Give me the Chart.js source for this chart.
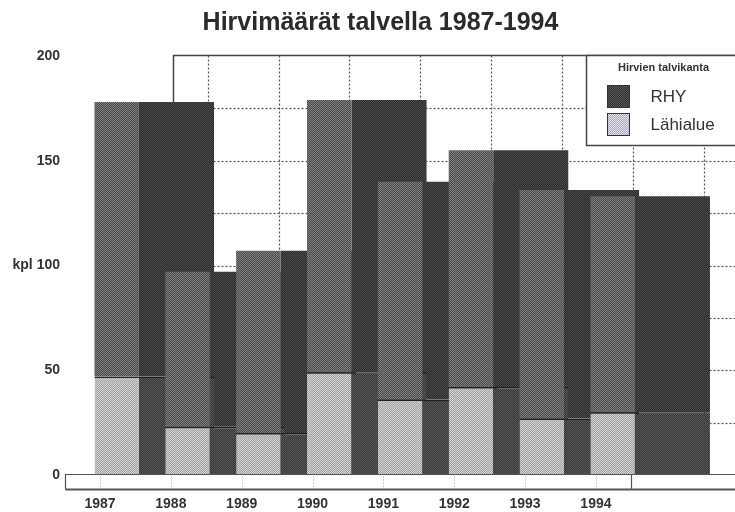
<!DOCTYPE html>
<html>
<head>
<meta charset="utf-8">
<script src="https://cdn.jsdelivr.net/npm/chart.js@4.4.1/dist/chart.umd.min.js"></script>
<style>
  html, body { margin: 0; padding: 0; background: #fff; overflow: hidden; }
  #wrap { width: 735px; height: 512px; }
</style>
</head>
<body>
<div id="wrap"><canvas id="c" width="735" height="512"></canvas></div>
<script>
// Winter moose counts per year: hunting district (RHY) and the nearby area (Lähialue)
const YEARS = ['1987', '1988', '1989', '1990', '1991', '1992', '1993', '1994'];
const RHY = [178, 97, 107, 179, 140, 155, 136, 133];
const LAHIALUE = [47, 23, 20, 49, 36, 42, 27, 30];
const Y_TICKS = [0, 50, 100, 150, 200];
const Y_TICK_LABELS = ['0', '50', 'kpl 100', '150', '200'];
const WALL_GRID = [25, 50, 75, 100, 125, 150, 175];

// Geometry in year units (1 unit = spacing between two years)
const X_MIN = -0.494, X_MAX = 8.963;
const FRONT_SHIFT = 0.236, FRONT_WIDTH = 0.628;
const SIDE_SHIFT = 1.08, SIDE_WIDTH = 1.059;
const DEPTH = 1.52;
const KEY_LEFT = 6.86;
const FLOOR_PX = 15;

const FONT = '"Liberation Sans", Arial, Helvetica, sans-serif';
Chart.defaults.font.family = FONT;

const canvas = document.getElementById('c');
const mainCtx = canvas.getContext('2d');

// 2x2 halftone pattern
function dither(a, b) {
  const t = document.createElement('canvas');
  t.width = t.height = 2;
  const g = t.getContext('2d');
  g.fillStyle = a; g.fillRect(0, 0, 2, 2);
  g.fillStyle = b; g.fillRect(0, 0, 1, 1); g.fillRect(1, 1, 1, 1);
  return mainCtx.createPattern(t, 'repeat');
}

const FILL_FRONT_TOP = dither('#4c4c4c', '#7e7e7e');
const FILL_FRONT_LOW = dither('#a2a2a2', '#d2d2d2');
const FILL_SIDE_TOP = dither('#2b2b2b', '#4b4b4b');
const FILL_SIDE_LOW = dither('#353535', '#5a5a5a');
const FILL_KEY_RHY = dither('#2e2e2e', '#5a5a5a');
const FILL_KEY_LAHI = dither('#a8a8c4', '#e2e2f0');

const intTicks = (scale) => { scale.ticks = YEARS.map((_, i) => ({ value: i })); };

const topLine = { top: 1.5, right: 0, bottom: 0, left: 0 };

// Back wall: frame and dotted grid, drawn behind the boxes
const backWall = {
  id: 'backWall',
  beforeDatasetsDraw(chart) {
    const { ctx, width, scales: { x, y } } = chart;
    const left = Math.round(x.getPixelForValue(X_MIN + DEPTH)) + 0.5;
    const right = width;
    const top = Math.round(y.getPixelForValue(200)) - 0.5;
    const bottom = y.getPixelForValue(0);
    ctx.save();
    ctx.strokeStyle = '#555';
    ctx.lineWidth = 1.2;
    ctx.setLineDash([2, 2]);
    WALL_GRID.forEach(v => {
      const py = Math.round(y.getPixelForValue(v)) + 0.5;
      ctx.beginPath(); ctx.moveTo(left, py); ctx.lineTo(right, py); ctx.stroke();
    });
    YEARS.forEach((_, i) => {
      const px = Math.round(x.getPixelForValue(i + DEPTH)) + 0.5;
      if (px < right) {
        ctx.beginPath(); ctx.moveTo(px, top); ctx.lineTo(px, bottom); ctx.stroke();
      }
    });
    ctx.setLineDash([]);
    ctx.strokeStyle = '#444';
    ctx.lineWidth = 1.5;
    ctx.beginPath();
    ctx.moveTo(left, bottom); ctx.lineTo(left, top); ctx.lineTo(right + 2, top);
    ctx.stroke();
    ctx.restore();
  }
};

// Floor strip under the boxes with the year tick marks
const floor = {
  id: 'floor',
  afterDatasetsDraw(chart) {
    const { ctx, width, scales: { x, y } } = chart;
    const fl = Math.round(x.getPixelForValue(X_MIN)) + 0.5;
    const fr = width + 2;
    const ft = Math.round(y.getPixelForValue(0)) - 0.5;
    const fb = ft + FLOOR_PX;
    ctx.save();
    ctx.fillStyle = '#fff';
    ctx.fillRect(fl, ft, fr - fl, FLOOR_PX);
    ctx.strokeStyle = '#999';
    ctx.lineWidth = 1;
    ctx.setLineDash([1, 2]);
    YEARS.forEach((_, i) => {
      const px = Math.round(x.getPixelForValue(i)) + 0.5;
      ctx.beginPath(); ctx.moveTo(px, ft + 2); ctx.lineTo(px, fb - 2); ctx.stroke();
    });
    ctx.setLineDash([]);
    ctx.strokeStyle = '#555';
    ctx.lineWidth = 1.2;
    ctx.beginPath();
    ctx.moveTo(fr, ft); ctx.lineTo(fl, ft); ctx.lineTo(fl, fb);
    ctx.stroke();
    ctx.lineWidth = 2;
    ctx.beginPath(); ctx.moveTo(fl, fb); ctx.lineTo(fr, fb); ctx.stroke();
    const edge = Math.round(x.getPixelForValue(YEARS.length - 0.5)) + 0.5;
    ctx.lineWidth = 1.2;
    ctx.beginPath(); ctx.moveTo(edge, ft); ctx.lineTo(edge, fb); ctx.stroke();
    ctx.restore();
  }
};

// Framed key box in the upper right corner
const keyBox = {
  id: 'keyBox',
  afterDraw(chart) {
    const { ctx, scales: { x, y } } = chart;
    const lx = Math.round(x.getPixelForValue(KEY_LEFT)) + 0.5;
    const ly = Math.round(y.getPixelForValue(200)) - 0.5;
    const lh = 90;
    ctx.save();
    ctx.fillStyle = '#fff';
    ctx.fillRect(lx, ly, 220, lh);
    ctx.strokeStyle = '#444';
    ctx.lineWidth = 1.5;
    ctx.strokeRect(lx, ly, 220, lh);
    ctx.fillStyle = '#333';
    ctx.font = 'bold 11px ' + FONT;
    ctx.textAlign = 'center';
    ctx.textBaseline = 'middle';
    ctx.fillText('Hirvien talvikanta', lx + 77, ly + 12);
    const items = [
      { text: chart.data.datasets[1].label, fill: FILL_KEY_RHY },
      { text: chart.data.datasets[0].label, fill: FILL_KEY_LAHI }
    ];
    ctx.font = '17px ' + FONT;
    ctx.textAlign = 'left';
    items.forEach((it, k) => {
      const sy = ly + 30 + k * 28;
      ctx.fillStyle = it.fill;
      ctx.fillRect(lx + 21, sy, 22, 22);
      ctx.strokeStyle = '#333';
      ctx.lineWidth = 1;
      ctx.strokeRect(lx + 21, sy, 22, 22);
      ctx.fillStyle = '#333';
      ctx.fillText(it.text, lx + 64, sy + 12);
    });
    ctx.restore();
  }
};

const lowData = LAHIALUE.map((v, i) => ({ x: i, y: [0, v] }));
const topData = RHY.map((v, i) => ({ x: i, y: [LAHIALUE[i], v] }));

const hiddenX = (shift) => ({
  type: 'linear', axis: 'x', display: false, offset: false,
  min: X_MIN - shift, max: X_MAX - shift,
  grid: { offset: false },
  afterBuildTicks: intTicks
});

new Chart(canvas, {
  type: 'bar',
  data: {
    datasets: [
      { label: 'Lähialue', xAxisID: 'xf', data: lowData, backgroundColor: FILL_FRONT_LOW,
        borderColor: '#222', borderWidth: topLine, borderSkipped: false,
        barPercentage: FRONT_WIDTH, order: 1 },
      { label: 'RHY', xAxisID: 'xf', data: topData, backgroundColor: FILL_FRONT_TOP,
        borderWidth: 0, barPercentage: FRONT_WIDTH, order: 1 },
      { label: 'Lähialue (sivu)', xAxisID: 'xs', data: lowData, backgroundColor: FILL_SIDE_LOW,
        borderColor: '#1e1e1e', borderWidth: topLine, borderSkipped: false,
        barPercentage: SIDE_WIDTH, order: 2 },
      { label: 'RHY (sivu)', xAxisID: 'xs', data: topData, backgroundColor: FILL_SIDE_TOP,
        borderWidth: 0, barPercentage: SIDE_WIDTH, order: 2 }
    ]
  },
  options: {
    responsive: false,
    animation: false,
    events: [],
    layout: { padding: { left: 0, right: -26, top: 0, bottom: 0 } },
    datasets: { bar: { grouped: false, categoryPercentage: 1 } },
    plugins: {
      legend: { display: false },
      tooltip: { enabled: false },
      title: {
        display: true,
        text: 'Hirvimäärät talvella 1987-1994',
        color: '#2b2b2b',
        font: { family: FONT, size: 25, weight: 'bold' },
        padding: { top: 8, bottom: 18 }
      }
    },
    scales: {
      x: {
        type: 'linear', axis: 'x', position: 'bottom', offset: false,
        min: X_MIN, max: X_MAX,
        afterBuildTicks: intTicks,
        afterFit: (s) => { s.height = 37; },
        grid: { display: false, drawTicks: false, offset: false },
        border: { display: false },
        ticks: {
          padding: 21, autoSkip: false, maxRotation: 0, color: '#333',
          font: { size: 14, weight: 'bold' },
          callback: (v) => YEARS[v]
        }
      },
      xf: hiddenX(FRONT_SHIFT),
      xs: hiddenX(SIDE_SHIFT),
      y: {
        type: 'linear', position: 'left', min: 0, max: 200,
        afterBuildTicks: (s) => { s.ticks = Y_TICKS.map(v => ({ value: v })); },
        afterFit: (s) => { s.width = 65; },
        grid: { display: false, drawTicks: false },
        border: { display: false },
        ticks: {
          padding: 5, color: '#333',
          font: { size: 14, weight: 'bold' },
          callback: (v, i) => Y_TICK_LABELS[i]
        }
      }
    }
  },
  plugins: [backWall, floor, keyBox]
});
</script>
</body>
</html>
